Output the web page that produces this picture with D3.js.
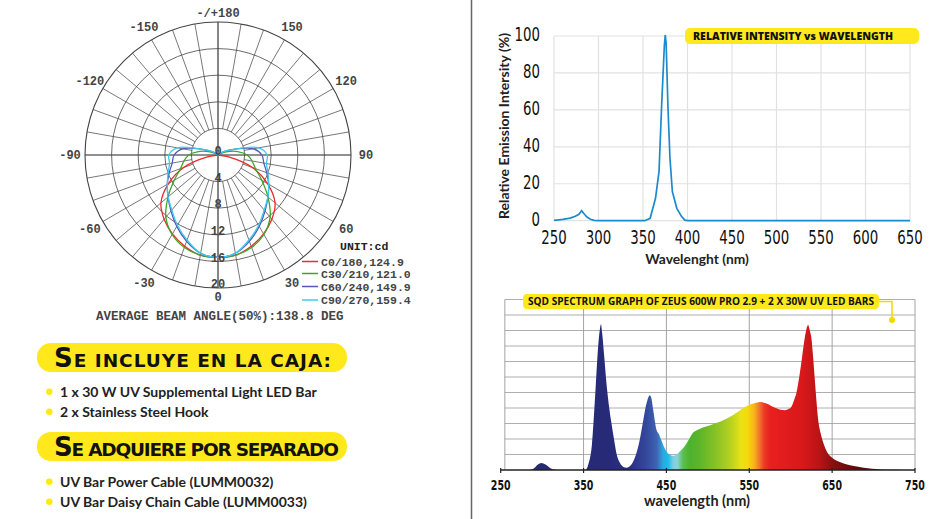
<!DOCTYPE html>
<html>
<head>
<meta charset="utf-8">
<script src="https://cdn.jsdelivr.net/npm/d3@7"></script>
<style>
	body { margin: 0; background: #fff; }
	svg { display: block; }
</style>
</head>
<body>
<svg id="chart" width="947" height="519"></svg>
<script>
// --- polar candela plot (angle from nadir, cd) ---
const polarAngles = [0, 10, 20, 30, 40, 50, 60, 70, 80, 90, 100, 110, 120, 130]
const c0Values = [15.4, 15.3, 14.6, 13.7, 12.6, 11.2, 8.6, 5.5, 1.5, 0, 0, 0, 0, 0]
const c30Values = [15.4, 15.3, 14.8, 13.8, 12.2, 9.8, 7.6, 6.0, 5.2, 4.4, 3.0, 1.5, 0.5, 0]
const c60Values = [15.4, 15.0, 13.8, 12.4, 11.0, 9.8, 8.8, 7.8, 7.0, 6.6, 5.4, 2.5, 1.0, 0]
const c90Values = [15.4, 15.0, 13.6, 12.2, 10.8, 9.8, 8.8, 8.0, 7.4, 7.4, 6.2, 2.5, 1.0, 0]
const ringValues = [0, 4, 8, 12, 16, 20]
const angleLabels = [-150, -120, -90, -60, -30, 0, 30, 60, 90, 120, 150, 180]
const legendLabels = ['C0/180,124.9', 'C30/210,121.0', 'C60/240,149.9', 'C90/270,159.4']

// --- relative intensity vs wavelength ---
const uvNm = [250, 260, 268, 274, 278, 281, 284, 287, 291, 295, 300, 352, 358, 364, 368, 371, 374, 375, 376, 378, 380.3, 383, 388, 393, 397, 400, 650]
const uvValues = [0.2, 0.7, 1.4, 2.4, 3.5, 5.4, 3.6, 2.0, 0.8, 0.2, 0, 0, 1.3, 12, 26.6, 63, 95, 100.5, 96, 62, 33.8, 15.7, 6.7, 2.5, 0.3, 0, 0]
const uvXTicks = [250, 300, 350, 400, 450, 500, 550, 600, 650]
const uvYTicks = [0, 20, 40, 60, 80, 100]

// --- SQD spectrum ---
const specNm = [250, 285, 290, 295, 299, 304, 310, 316, 322, 352, 356, 360, 364, 367, 369.5, 371, 372.5, 374.5, 378, 381, 384, 387, 390, 394, 398, 402, 407, 412, 418, 422, 426, 430, 432, 434, 438, 441, 444, 447, 450, 454, 458, 462, 466, 470, 474, 478, 482, 486, 490, 498, 506, 516, 526, 536, 546, 556, 564, 570, 576, 582, 588, 593, 598, 601, 604, 607, 610, 613, 616, 619, 621, 623, 625, 627, 629, 631, 633, 636, 639, 644, 651, 660, 668, 678, 688, 698, 708, 720, 735, 750]
const specValues = [0, 0, 0.1, 0.35, 0.45, 0.35, 0.12, 0.02, 0, 0, 0.4, 1.6, 4.8, 7.5, 9.0, 9.4, 8.8, 7.6, 5.4, 4.0, 2.9, 1.9, 1.0, 0.45, 0.2, 0.15, 0.3, 0.8, 2.0, 3.2, 4.3, 4.83, 4.6, 3.9, 2.6, 2.3, 1.9, 1.5, 1.2, 1.0, 0.92, 1.0, 1.2, 1.4, 1.7, 2.05, 2.4, 2.55, 2.65, 2.8, 2.95, 3.15, 3.4, 3.75, 4.1, 4.3, 4.38, 4.3, 4.15, 4.0, 3.88, 3.86, 3.95, 4.1, 4.5, 5.0, 5.9, 7.0, 8.2, 9.1, 9.35, 9.0, 8.5, 7.3, 5.9, 4.5, 3.3, 2.4, 1.8, 1.15, 0.75, 0.5, 0.36, 0.24, 0.15, 0.08, 0.04, 0.01, 0, 0]
const specXTicks = [250, 350, 450, 550, 650, 750]
const specGridLines = [1, 2, 3, 4, 5, 6, 7, 8, 9, 10, 11]
const specStopNm = [250, 380, 405, 425, 438, 446, 452, 458, 463, 470, 478, 490, 510, 528, 540, 548, 556, 562, 568, 575, 615, 635, 650, 670, 700, 750]
const specStopColors = ['#262a6e', '#262a78', '#2a2f82', '#34479a', '#3f62b2', '#2aa8e0', '#1cbbe9', '#7ccfe0', '#8ad3dc', '#5cbf50', '#4db22e', '#5cb52a', '#88c226', '#b9d221', '#e9e214', '#f5d90a', '#f8b21a', '#f2782a', '#ec3a26', '#e8201f', '#d8181a', '#b81416', '#8a1010', '#6a0c0c', '#4e0808', '#3a0606']

// --- text blocks ---
const includedItems = ['1 x 30 W UV Supplemental Light LED Bar', '2 x Stainless Steel Hook']
const separateItems = ['UV Bar Power Cable (LUMM0032)', 'UV Bar Daisy Chain Cable (LUMM0033)']

const svg = d3.select('#chart')
const yellow = '#ffe91c'
const monoFont = '"Liberation Mono", "DejaVu Sans Mono", monospace'
const narrowFont = '"Liberation Sans Narrow", "DejaVu Sans Condensed", sans-serif'

// separator
svg.append('line')
	.attr('x1', 471.5).attr('x2', 471.5)
	.attr('y1', 0).attr('y2', 519)
	.attr('stroke', '#666').attr('stroke-width', 1.5)

drawPolar()
drawUvChart()
drawSpectrum()
drawLists()

function drawPolar() {
	const cx = 218, cy = 155, R = 133
	const r = d3.scaleLinear().domain([0, 20]).range([0, R])
	const g = svg.append('g').attr('transform', `translate(${cx},${cy})`)
	const pt = (deg, rad) => {
		const a = deg * Math.PI / 180
		return [rad * Math.sin(a), rad * Math.cos(a)]
	}

	// spokes every 10 deg
	d3.range(-170, 190, 10).forEach(a => {
		const full = a % 90 === 0
		const [x1, y1] = pt(a, full ? 0 : r(4))
		const [x2, y2] = pt(a, R)
		g.append('line')
			.attr('x1', x1).attr('y1', y1).attr('x2', x2).attr('y2', y2)
			.attr('stroke', full ? '#222' : '#555')
			.attr('stroke-width', full ? 1.1 : 0.8)
	})
	g.selectAll('circle.ring')
		.data(ringValues.slice(1))
		.enter()
		.append('circle')
		.attr('r', d => r(d))
		.attr('fill', 'none')
		.attr('stroke', '#444')
		.attr('stroke-width', d => d === 20 ? 1.1 : 0.8)

	// curves
	const series = [
		{ values: c0Values, color: '#ec2a2c' },
		{ values: c30Values, color: '#3fa52a' },
		{ values: c60Values, color: '#5558bb' },
		{ values: c90Values, color: '#3ccbef' }
	]
	const line = d3.lineRadial()
		.angle(d => Math.PI - d[0] * Math.PI / 180)
		.radius(d => r(d[1]))
		.curve(d3.curveCatmullRom)
	series.forEach(s => {
		const right = polarAngles.map((a, i) => [a, s.values[i]])
		const left = right.slice(1).map(d => [-d[0], d[1]]).reverse()
		g.append('path')
			.datum(left.concat(right))
			.attr('d', line)
			.attr('fill', 'none')
			.attr('stroke', s.color)
			.attr('stroke-width', 1.3)
	})

	// ring labels
	g.selectAll('text.ring')
		.data(ringValues)
		.enter()
		.append('text')
		.attr('x', 0)
		.attr('y', d => r(d) - 4)
		.attr('dy', '0.35em')
		.attr('text-anchor', 'middle')
		.attr('font-family', monoFont)
		.attr('font-size', 12)
		.attr('font-weight', 'bold')
		.attr('fill', '#444')
		.text(d => d)

	// angle labels
	g.selectAll('text.angle')
		.data(angleLabels)
		.enter()
		.append('text')
		.attr('x', d => pt(d, d % 180 === 0 ? 142 : 148)[0])
		.attr('y', d => pt(d, d % 180 === 0 ? 142 : 148)[1])
		.attr('dy', '0.35em')
		.attr('text-anchor', 'middle')
		.attr('font-family', monoFont)
		.attr('font-size', 12)
		.attr('font-weight', 'bold')
		.attr('fill', '#444')
		.text(d => d === 180 ? '-/+180' : d)

	// legend
	const lg = svg.append('g').attr('font-family', monoFont).attr('font-size', 11.5).attr('font-weight', 'bold').attr('fill', '#444')
	lg.append('text').attr('x', 340).attr('y', 250).attr('fill', '#222').text('UNIT:cd')
	const rowY = [261.5, 273.5, 286.5, 300]
	series.forEach((s, i) => {
		lg.append('line')
			.attr('x1', 302).attr('x2', 318)
			.attr('y1', rowY[i]).attr('y2', rowY[i])
			.attr('stroke', s.color).attr('stroke-width', 1.5)
		lg.append('text').attr('x', 321).attr('y', rowY[i] + 4).text(legendLabels[i])
	})
	svg.append('text')
		.attr('x', 96).attr('y', 320)
		.attr('font-family', monoFont)
		.attr('font-size', 12.5)
		.attr('font-weight', 'bold')
		.attr('fill', '#444')
		.text('AVERAGE BEAM ANGLE(50%):138.8 DEG')
}

function drawUvChart() {
	const x = d3.scaleLinear().domain([250, 650]).range([554, 910])
	const y = d3.scaleLinear().domain([0, 100]).range([220.7, 36])
	const g = svg.append('g')

	g.selectAll('line.vg').data(uvXTicks).enter().append('line')
		.attr('x1', d => x(d)).attr('x2', d => x(d))
		.attr('y1', y(0)).attr('y2', y(100))
		.attr('stroke', '#e2e2e2').attr('stroke-width', 1.2)
	g.selectAll('line.hg').data(uvYTicks).enter().append('line')
		.attr('x1', x(250)).attr('x2', x(650))
		.attr('y1', d => y(d)).attr('y2', d => y(d))
		.attr('stroke', '#e2e2e2').attr('stroke-width', 1.2)

	g.selectAll('text.xt').data(uvXTicks).enter().append('text')
		.attr('transform', d => `translate(${x(d)},244) scale(0.78,1)`)
		.attr('text-anchor', 'middle')
		.attr('font-family', narrowFont).attr('font-size', 19)
		.attr('fill', '#111')
		.text(d => d)
	g.selectAll('text.yt').data(uvYTicks).enter().append('text')
		.attr('transform', d => `translate(540,${y(d) - 1.5}) scale(0.78,1)`)
		.attr('dy', '0.35em')
		.attr('text-anchor', 'end')
		.attr('font-family', narrowFont).attr('font-size', 19)
		.attr('fill', '#111')
		.text(d => d)

	const line = d3.line().x(d => x(d[0])).y(d => y(d[1]))
	g.append('path')
		.datum(uvNm.map((n, i) => [n, uvValues[i]]))
		.attr('d', line)
		.attr('fill', 'none')
		.attr('stroke', '#1b8bcb')
		.attr('stroke-width', 1.7)

	g.append('text')
		.attr('transform', 'translate(508.5,126) rotate(-90)')
		.attr('text-anchor', 'middle')
		.attr('font-family', 'Lato, sans-serif').attr('font-weight', 'bold').attr('font-size', 14)
		.attr('fill', '#222')
		.text('Relative Emission Intersity (%)')
	g.append('text')
		.attr('x', 697).attr('y', 264)
		.attr('text-anchor', 'middle')
		.attr('font-family', 'Lato, sans-serif').attr('font-weight', 'bold').attr('font-size', 13.8)
		.attr('fill', '#222')
		.text('Wavelenght (nm)')

	g.append('rect')
		.attr('x', 685).attr('y', 28).attr('width', 234).attr('height', 16).attr('rx', 5)
		.attr('fill', yellow)
	g.append('text')
		.attr('x', 793).attr('y', 40)
		.attr('text-anchor', 'middle')
		.attr('font-family', '"Open Sans", sans-serif').attr('font-weight', 800).attr('font-size', 10.5)
		.attr('textLength', 200).attr('lengthAdjust', 'spacingAndGlyphs')
		.attr('fill', '#111')
		.text('RELATIVE INTENSITY vs WAVELENGTH')
}

function drawSpectrum() {
	const x = d3.scaleLinear().domain([250, 750]).range([500.7, 915])
	const y = d3.scaleLinear().domain([0, 11]).range([470, 299.5])
	const g = svg.append('g')

	const grad = svg.append('defs').append('linearGradient')
		.attr('id', 'spec')
		.attr('gradientUnits', 'userSpaceOnUse')
		.attr('x1', x(250)).attr('x2', x(750))
		.attr('y1', 0).attr('y2', 0)
	specStopNm.forEach((n, i) => {
		grad.append('stop')
			.attr('offset', (n - 250) / 500)
			.attr('stop-color', specStopColors[i])
	})

	g.selectAll('line.hg').data(specGridLines).enter().append('line')
		.attr('x1', x(255)).attr('x2', x(750))
		.attr('y1', d => y(d)).attr('y2', d => y(d))
		.attr('stroke', '#9a9a9a').attr('stroke-width', 0.8)
	g.selectAll('line.vg').data([255, 350, 450, 550, 650, 750]).enter().append('line')
		.attr('x1', d => x(d)).attr('x2', d => x(d))
		.attr('y1', y(0)).attr('y2', y(11))
		.attr('stroke', '#9a9a9a').attr('stroke-width', 0.9)

	const area = d3.area()
		.x(d => x(d[0]))
		.y0(y(0))
		.y1(d => y(d[1]))
		.curve(d3.curveMonotoneX)
	g.append('path')
		.datum(specNm.map((n, i) => [n, specValues[i]]))
		.attr('d', area)
		.attr('fill', 'url(#spec)')

	g.append('line')
		.attr('x1', x(250)).attr('x2', x(750))
		.attr('y1', y(0)).attr('y2', y(0))
		.attr('stroke', '#222').attr('stroke-width', 1.5)
	g.selectAll('line.tk').data(specXTicks).enter().append('line')
		.attr('x1', d => x(d)).attr('x2', d => x(d))
		.attr('y1', y(0) - 2).attr('y2', y(0) + 3)
		.attr('stroke', '#222').attr('stroke-width', 1.2)

	g.selectAll('text.xt').data(specXTicks).enter().append('text')
		.attr('transform', d => `translate(${x(d)},490) scale(0.78,1)`)
		.attr('text-anchor', 'middle')
		.attr('font-family', narrowFont).attr('font-weight', 'bold').attr('font-size', 13.5)
		.attr('fill', '#111')
		.text(d => d)
	g.append('text')
		.attr('x', 697).attr('y', 506)
		.attr('text-anchor', 'middle')
		.attr('font-family', 'Lato, sans-serif').attr('font-weight', 'bold').attr('font-size', 14.5)
		.attr('fill', '#222')
		.text('wavelength (nm)')

	g.append('path')
		.attr('d', 'M879,301.5H892V319')
		.attr('fill', 'none').attr('stroke', '#f2d900').attr('stroke-width', 1.5)
	g.append('circle').attr('cx', 892).attr('cy', 320).attr('r', 3).attr('fill', '#f2d900')
	g.append('rect')
		.attr('x', 523).attr('y', 294).attr('width', 356).attr('height', 15).attr('rx', 4)
		.attr('fill', yellow)
	g.append('text')
		.attr('x', 701).attr('y', 305)
		.attr('text-anchor', 'middle')
		.attr('font-family', '"Open Sans", sans-serif').attr('font-weight', 'bold').attr('font-size', 10)
		.attr('textLength', 346).attr('lengthAdjust', 'spacingAndGlyphs')
		.attr('fill', '#111')
		.text('SQD SPECTRUM GRAPH OF ZEUS 600W PRO 2.9 + 2 X 30W UV LED BARS')
}

function drawLists() {
	const g = svg.append('g')
	const banner = (y0, first, rest, width) => {
		g.append('rect')
			.attr('x', 37).attr('y', y0).attr('width', 310).attr('height', 29).attr('rx', 14)
			.attr('fill', yellow)
		const t = g.append('text')
			.attr('x', 54).attr('y', y0 + 23.5)
			.attr('font-family', '"DejaVu Sans", sans-serif').attr('font-weight', 'bold')
			.attr('fill', '#111')
			.attr('textLength', width).attr('lengthAdjust', 'spacing')
		t.append('tspan').attr('font-size', 26).text(first)
		t.append('tspan').attr('font-size', 18.5).text(rest)
	}
	const bullets = (items, y0) => {
		items.forEach((d, i) => {
			g.append('circle').attr('cx', 49.3).attr('cy', y0 + i * 20).attr('r', 3.3).attr('fill', yellow)
			g.append('text')
				.attr('x', 60).attr('y', y0 + i * 20 + 5)
				.attr('font-family', 'Lato, sans-serif').attr('font-weight', 'bold').attr('font-size', 14)
				.attr('fill', '#222')
				.text(d)
		})
	}
	banner(343, 'S', 'E INCLUYE EN LA CAJA:', 277)
	bullets(includedItems, 391.7)
	banner(432, 'S', 'E ADQUIERE POR SEPARADO', 285)
	bullets(separateItems, 481.7)
}
</script>
</body>
</html>
